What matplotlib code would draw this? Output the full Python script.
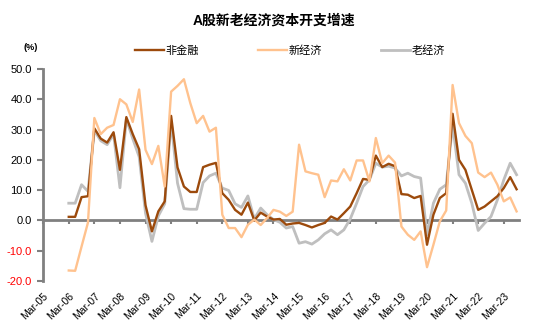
import numpy as np
import matplotlib
matplotlib.use("Agg")
import matplotlib.pyplot as plt

plt.rcParams['font.family'] = ['Liberation Sans', 'Noto Sans CJK SC', 'DejaVu Sans']

# quarterly capex growth, Mar-06 .. Sep-23 (%)
non_fin = [1.2, 1.2, 7.7, 8.0, 30.4, 27.0, 25.7, 29.1, 16.7, 34.1, 28.5, 23.5,
           5.0, -3.6, 3.0, 6.3, 34.5, 17.5, 11.2, 9.4, 9.4, 17.6, 18.4, 19.0,
           9.0, 6.8, 3.5, 1.9, 5.9, 0.0, 2.6, 1.3, 0.3, 0.5, -1.4, -1.0,
           -0.8, -1.5, -2.3, -1.5, -0.8, 1.3, 0.3, 2.4, 4.6, 9.0, 13.7, 13.4,
           21.4, 17.6, 18.7, 17.9, 8.7, 8.5, 7.4, 8.1, -8.0, 1.9, 7.4, 9.0,
           35.2, 20.0, 16.7, 10.1, 3.5, 4.6, 6.3, 8.0, 10.7, 14.3, 10.3]
new_econ = [-16.5, -16.6, -8.6, -0.7, 33.8, 28.5, 30.6, 31.5, 40.0, 38.3, 32.5, 43.2,
            23.3, 18.6, 24.6, 11.2, 42.5, 44.4, 46.6, 38.7, 32.1, 34.5, 29.3, 30.6,
            1.9, -2.5, -2.5, -5.5, -1.4, 0.3, -1.5, 0.8, 3.5, 2.9, 1.5, 2.9,
            25.0, 16.2, 15.6, 15.1, 7.7, 13.2, 12.9, 16.9, 13.2, 19.8, 19.8, 12.9,
            27.2, 18.9, 21.4, 19.1, -2.0, -4.7, -6.4, -3.6, -15.4, -8.0, -0.3, 3.3,
            44.7, 32.1, 27.9, 25.5, 15.8, 14.3, 15.8, 11.8, 6.3, 7.6, 3.0]
old_econ = [5.7, 5.7, 11.8, 9.6, 29.7, 26.3, 25.0, 28.5, 10.8, 33.5, 27.0, 21.0,
            2.4, -6.9, 1.5, 5.5, 32.8, 12.3, 3.9, 3.7, 3.7, 12.5, 14.7, 15.6,
            10.7, 9.9, 5.5, 4.3, 8.1, 0.5, 4.1, 1.9, 0.3, -0.6, -2.5, -2.0,
            -7.5, -7.0, -7.8, -6.4, -4.4, -3.1, -4.7, -3.1, 0.5, 5.7, 11.2, 13.4,
            18.9, 17.6, 17.9, 17.3, 14.7, 15.6, 14.5, 14.0, -4.7, 5.7, 10.3, 11.8,
            31.5, 15.1, 12.3, 5.7, -3.3, -0.9, 1.3, 6.8, 13.4, 18.9, 15.1]

year_labels = ['Mar-%02d' % y for y in range(5, 24)]
yticks = [-20, -10, 0, 10, 20, 30, 40, 50]

x = np.arange(len(non_fin))
year_pos = np.arange(-4, len(non_fin), 4)[:len(year_labels)]

fig = plt.figure(figsize=(5.33, 3.22), dpi=100)
ax = fig.add_axes([0.081, 0.127, 0.893, 0.659])

ax.plot(x, old_econ, color='#BFBFBF', lw=2.0, zorder=2, label='老经济')
ax.plot(x, non_fin, color='#9C4A0C', lw=1.7, zorder=3, label='非金融')
ax.plot(x, new_econ, color='#FFC28E', lw=1.7, zorder=4, label='新经济')

ax.set_xlim(-4, 70.4)
ax.set_ylim(-20, 50)

for s in ['top', 'right', 'bottom']:
    ax.spines[s].set_visible(False)
ax.spines['left'].set_color('#808080')
ax.spines['left'].set_linewidth(2)

ax.set_yticks(yticks)
ax.set_yticklabels(['%.1f' % v for v in yticks], fontsize=8)
for lab, v in zip(ax.get_yticklabels(), yticks):
    lab.set_color('#FF0000' if v < 0 else 'black')
ax.tick_params(axis='y', direction='out', length=4, width=1.5, color='#808080', pad=4)

ax.set_xticks(year_pos)
ax.set_xticklabels(year_labels, rotation=45, ha='right', rotation_mode='anchor', fontsize=7.5)
ax.tick_params(axis='x', length=0, pad=7)

# zero line with year ticks
zero_axis = ax.secondary_xaxis(20 / 70)
zero_axis.spines['bottom'].set_color('#808080')
zero_axis.spines['bottom'].set_linewidth(2)
zero_axis.set_xticks(year_pos)
zero_axis.tick_params(axis='x', direction='out', length=3, width=1.5, color='#808080', labelbottom=False)

fig.text(0.514, 0.937, 'A股新老经济资本开支增速', ha='center', va='center',
         fontsize=10, fontweight='bold')
fig.text(0.057, 0.852, '(%)', ha='center', va='center', fontsize=6.5, fontweight='bold')

h, l = ax.get_legend_handles_labels()
order = [1, 2, 0]
fig.legend([h[i] for i in order], [l[i] for i in order], loc='center left',
           bbox_to_anchor=(0.235, 0.842), ncol=3, frameon=False, fontsize=8,
           handlelength=2.6, handletextpad=0.15, columnspacing=5.3)

fig.savefig('out.png', dpi=100)
